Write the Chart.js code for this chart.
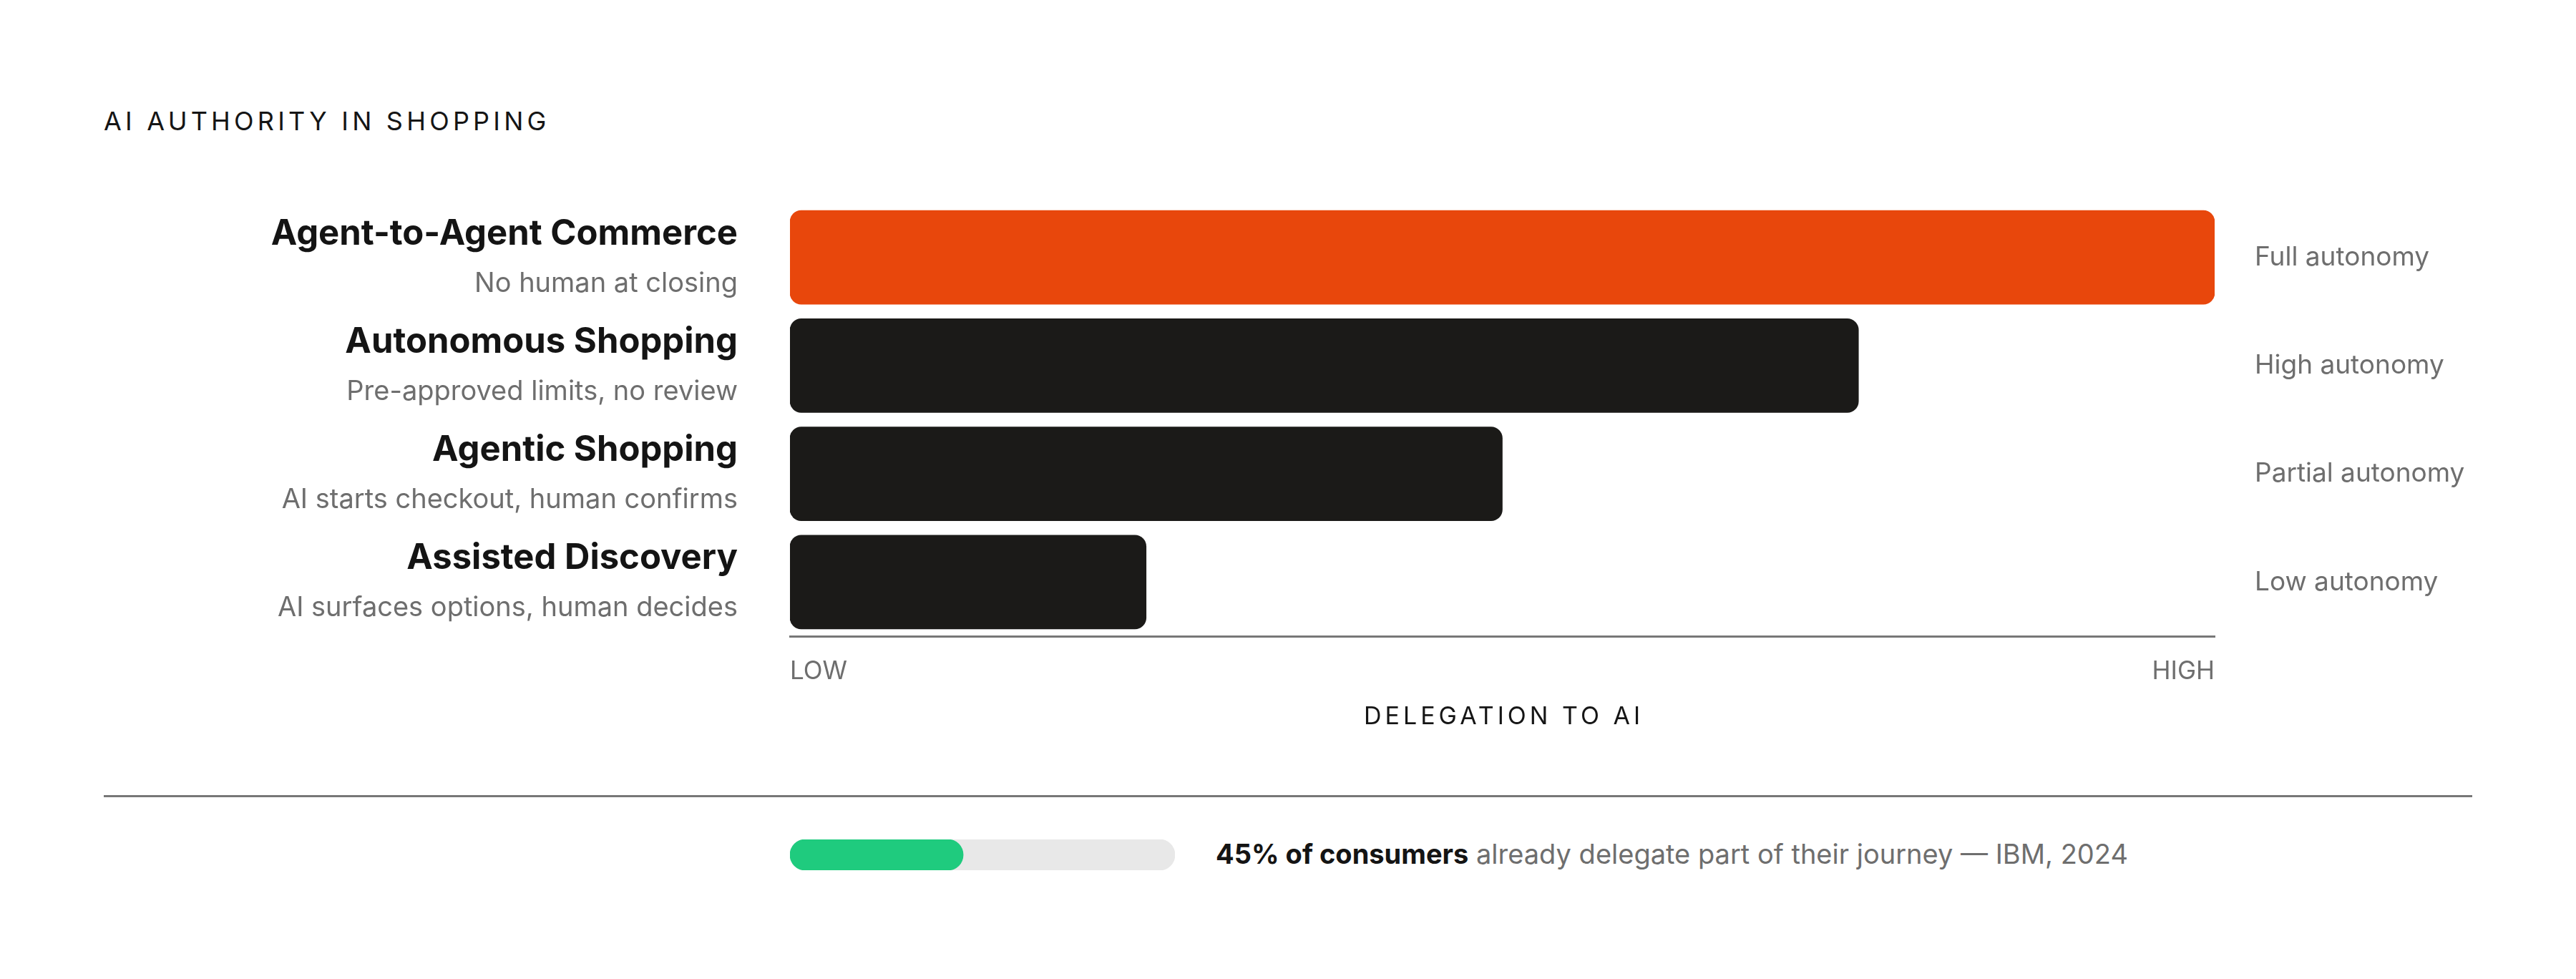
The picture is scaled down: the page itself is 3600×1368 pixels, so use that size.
<!DOCTYPE html>
<html>
<head>
<meta charset="utf-8">
<script src="https://cdn.jsdelivr.net/npm/chart.js@4.4.1/dist/chart.umd.min.js"></script>
<style>
  html, body { margin: 0; padding: 0; background: #fff; }
  body { width: 3600px; height: 1368px; position: relative; overflow: hidden;
         font-family: Inter, "Noto Sans", sans-serif; }
  #titulo { position: absolute; left: 145px; top: 149px; font-size: 36px; letter-spacing: 0.145em;
            color: #151515; line-height: 40px; }
  #wrap-main { position: absolute; left: 0; top: 0; width: 3600px; height: 1060px; }
  #divisor { position: absolute; left: 145px; top: 1111px; width: 3310px; height: 3px; background: #777; }
  #wrap-barra { position: absolute; left: 1104px; top: 1173px; width: 538px; height: 43px; }
  #nota { position: absolute; left: 1699px; top: 1171px; font-size: 38px; line-height: 44px; color: #6e6e6e; }
  #nota strong { color: #141414; font-weight: 700; }
</style>
</head>
<body>
<div id="titulo">AI AUTHORITY IN SHOPPING</div>
<div id="wrap-main"><canvas id="grafico"></canvas></div>
<div id="divisor"></div>
<div id="wrap-barra"><canvas id="barra"></canvas></div>
<div id="nota"><strong>45% of consumers</strong> already delegate part of their journey — IBM, 2024</div>

<script>
/* Barras de autoridade da IA: nome + descrição à esquerda, nível de autonomia à direita. */

const NOMES = ["Agent-to-Agent Commerce", "Autonomous Shopping", "Agentic Shopping", "Assisted Discovery"];
const DESCRICOES = ["No human at closing", "Pre-approved limits, no review",
                    "AI starts checkout, human confirms", "AI surfaces options, human decides"];
const NIVEIS = ["Full autonomy", "High autonomy", "Partial autonomy", "Low autonomy"];
const DELEGACAO = [100, 75, 50, 25];
const CORES = ["#e8470c", "#1b1a18", "#1b1a18", "#1b1a18"];
const EXTREMOS = ["LOW", "HIGH"];
const EIXO_TITULO = "DELEGATION TO AI";
const CONSUMIDORES = 45;

const FONTE = 'Inter, "Noto Sans", sans-serif';
const CINZA = "#6e6e6e";

// nomes em negrito + descrição em cinza, alinhados à direita antes das barras
const rotulosEsquerda = {
  id: "rotulosEsquerda",
  afterDraw(chart) {
    const { ctx, scales: { y }, chartArea } = chart;
    const xDir = chartArea.left - 73;
    ctx.save();
    ctx.textAlign = "right";
    ctx.textBaseline = "alphabetic";
    NOMES.forEach((nome, i) => {
      const yc = y.getPixelForValue(i);
      ctx.fillStyle = "#141414";
      ctx.font = `700 49px ${FONTE}`;
      ctx.fillText(nome, xDir, yc - 18);
      ctx.fillStyle = CINZA;
      ctx.font = `400 38px ${FONTE}`;
      ctx.fillText(DESCRICOES[i], xDir, yc + 48);
    });
    // título do eixo x com espaçamento entre letras
    ctx.textAlign = "center";
    ctx.fillStyle = "#151515";
    ctx.font = `400 34px ${FONTE}`;
    ctx.letterSpacing = "5px";
    ctx.fillText(EIXO_TITULO, (chartArea.left + chartArea.right) / 2 + 2, 1012);
    ctx.restore();
  },
};

new Chart(document.getElementById("grafico"), {
  type: "bar",
  data: {
    labels: NOMES,
    datasets: [{
      data: DELEGACAO,
      backgroundColor: CORES,
      borderRadius: 16,
      borderSkipped: false,
      barThickness: 131,
    }],
  },
  options: {
    indexAxis: "y",
    responsive: true,
    maintainAspectRatio: false,
    animation: false,
    devicePixelRatio: 1,
    layout: { padding: { left: 1104, top: 284, right: 0, bottom: 71 } },
    plugins: { legend: { display: false }, tooltip: { enabled: false } },
    scales: {
      x: {
        min: 0, max: 100,
        afterBuildTicks: s => { s.ticks = [{ value: 0 }, { value: 100 }]; },
        afterFit: s => { s.height = 100; },
        grid: { display: false, drawTicks: false },
        border: { display: true, color: "#777", width: 3 },
        ticks: {
          align: "inner",
          padding: 28,
          color: CINZA,
          font: { family: FONTE, size: 35 },
          callback: v => (v === 0 ? EXTREMOS[0] : EXTREMOS[1]),
        },
      },
      y: { display: false, offset: true },
      y2: {
        type: "category",
        labels: NIVEIS,
        position: "right",
        offset: true,
        afterFit: s => { s.width = 505; },
        grid: { display: false, drawTicks: false },
        border: { display: false },
        ticks: { padding: 56, color: CINZA, font: { family: FONTE, size: 37 }, crossAlign: "near" },
      },
    },
  },
  plugins: [rotulosEsquerda],
});

// barra de progresso: trilho cinza com o preenchimento verde por cima
new Chart(document.getElementById("barra"), {
  type: "bar",
  data: {
    labels: ["consumidores"],
    datasets: [
      { data: [CONSUMIDORES], backgroundColor: "#1fcb7e", borderRadius: 22,
        borderSkipped: false, barThickness: 43, grouped: false },
      { data: [100], backgroundColor: "#e8e8e8", borderRadius: 22,
        borderSkipped: false, barThickness: 43, grouped: false },
    ],
  },
  options: {
    indexAxis: "y",
    responsive: true,
    maintainAspectRatio: false,
    animation: false,
    devicePixelRatio: 1,
    layout: { padding: 0 },
    plugins: { legend: { display: false }, tooltip: { enabled: false } },
    scales: {
      x: { display: false, min: 0, max: 100 },
      y: { display: false },
    },
  },
});
</script>
</body>
</html>
